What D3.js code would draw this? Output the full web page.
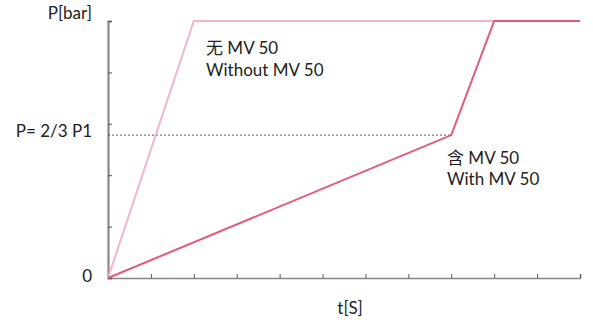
<!DOCTYPE html>
<html><head><meta charset="utf-8">
<script src="https://cdn.jsdelivr.net/npm/d3@7"></script>
<style>body{margin:0;background:#fff}text{font-family:Lato,"Noto Sans CJK SC",sans-serif;fill:#222}</style>
</head><body><svg id="c" width="593" height="329"></svg>
<script>
const xTicks = [0,1,2,3,4,5,6,7,8,9,10,11];
const yTicks = [0,1,2,3,4,5];
const withoutMV = [[0,0],[2,5],[9,5]];
const withMV = [[0,0],[8,2.78],[9,5],[11,5]];
const refLevel = 2.78;
const labelsY = [{v:0,t:"0",dy:4},{v:2.78,t:"P= 2/3 P1",dy:2}];

const svg = d3.select("#c");
const x = d3.scaleLinear().domain([0,11]).range([108,580]);
const y = d3.scaleLinear().domain([0,5]).range([278,21]);
const fs = 17;

// x axis
const gx = svg.append("g").attr("transform","translate(0,278)")
  .call(d3.axisBottom(x).tickValues(xTicks).tickSize(-4).tickFormat(""));
gx.select(".domain").attr("stroke","#888").attr("stroke-width",1.5);
gx.selectAll(".tick line").attr("stroke","#555");
// y axis
const gy = svg.append("g").attr("transform","translate(108,0)")
  .call(d3.axisLeft(y).tickValues(yTicks).tickSize(-4).tickFormat(""));
gy.select(".domain").attr("stroke","#888").attr("stroke-width",2.2);
gy.selectAll(".tick line").attr("stroke","#555");

// dashed reference
svg.append("line").attr("x1",x(0)).attr("x2",x(8)).attr("y1",y(refLevel)).attr("y2",y(refLevel))
  .attr("stroke","#555").attr("stroke-dasharray","2,2").attr("stroke-width",1);

const line = d3.line().x(d=>x(d[0])).y(d=>y(d[1]));
svg.append("path").datum(withoutMV).attr("d",line).attr("fill","none").attr("stroke","#f5b3cc").attr("stroke-width",2);
svg.append("path").datum(withMV).attr("d",line).attr("fill","none").attr("stroke","#e4587c").attr("stroke-width",2);

// labels
labelsY.forEach(l=>svg.append("text").attr("x",92).attr("y",y(l.v)+l.dy).attr("text-anchor","end").attr("font-size",fs).text(l.t));
svg.append("text").attr("x",92).attr("y",19).attr("text-anchor","end").attr("font-size",fs).text("P[bar]");
svg.append("text").attr("x",350).attr("y",314).attr("text-anchor","middle").attr("font-size",fs).text("t[S]");
svg.append("text").attr("x",206).attr("y",54).attr("font-size",fs).text("无 MV 50");
svg.append("text").attr("x",206).attr("y",76).attr("font-size",fs).text("Without MV 50");
svg.append("text").attr("x",447).attr("y",164).attr("font-size",fs).text("含 MV 50");
svg.append("text").attr("x",447).attr("y",185).attr("font-size",fs).text("With MV 50");
</script></body></html>
